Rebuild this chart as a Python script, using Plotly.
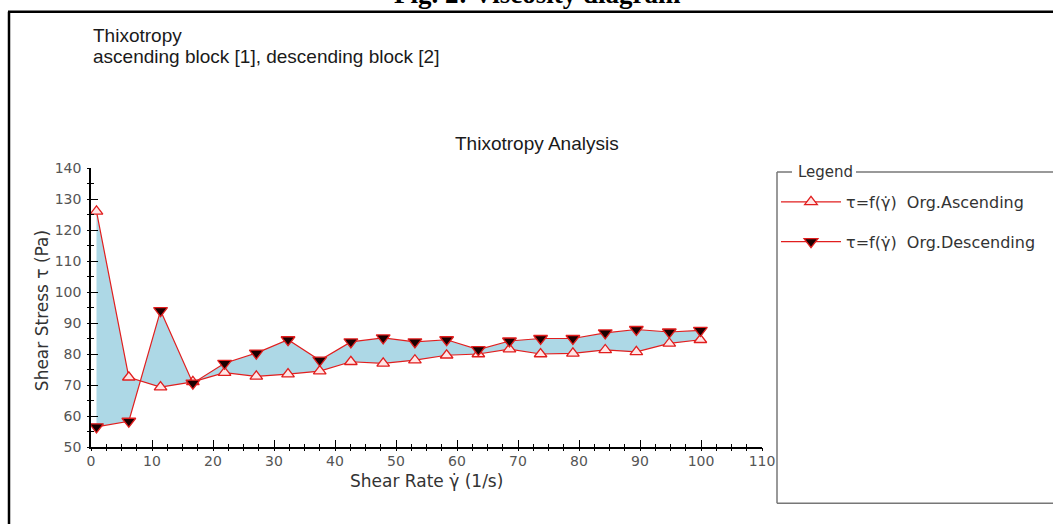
import plotly.graph_objects as go

# ---- data ----
shear_rate = [0.9, 6.2, 11.4, 16.7, 21.9, 27.1, 32.3, 37.5, 42.6, 47.9,
              53.1, 58.3, 63.5, 68.6, 73.7, 79.0, 84.3, 89.4, 94.8, 99.9]
stress_ascending = [126.0, 72.5, 69.3, 71.0, 74.0, 72.8, 73.5, 74.5, 77.5, 77.0,
                    78.0, 79.6, 80.0, 81.6, 80.0, 80.2, 81.3, 80.7, 83.4, 84.6]
stress_descending = [56.5, 58.3, 94.0, 70.6, 77.0, 80.3, 84.6, 78.0, 83.9, 85.2,
                     83.9, 84.6, 81.4, 84.2, 85.0, 85.0, 86.8, 87.9, 87.1, 87.6]
x_ticks = [0, 10, 20, 30, 40, 50, 60, 70, 80, 90, 100, 110]
y_ticks = [50, 60, 70, 80, 90, 100, 110, 120, 130, 140]

W, H = 1053, 524
L, R, T, B = 91, 762, 168, 446.7
PW, PH = R - L, B - T


def px_x(p):
    return (p - L) / PW


def px_y(p):
    return (B - p) / PH


RED = "rgb(225,30,30)"
SANS = "DejaVu Sans"
ARIAL = "Liberation Sans, Arial"

fig = go.Figure()

# filled area between ascending and descending curves
fig.add_trace(go.Scatter(x=shear_rate, y=stress_ascending, mode="lines",
                         line=dict(width=0, color="rgba(0,0,0,0)"),
                         showlegend=False, hoverinfo="skip"))
fig.add_trace(go.Scatter(x=shear_rate, y=stress_descending, mode="lines",
                         line=dict(width=0, color="rgba(0,0,0,0)"),
                         fill="tonexty", fillcolor="#add8e6",
                         showlegend=False, hoverinfo="skip"))

label_a = "τ=f(γ\u0307)\u00a0\u00a0Org.Ascending"
label_d = "τ=f(γ\u0307)\u00a0\u00a0Org.Descending"

fig.add_trace(go.Scatter(x=shear_rate, y=stress_ascending, mode="lines+markers",
                         name=label_a, legendgroup="a",
                         line=dict(color=RED, width=1.2),
                         marker=dict(symbol="triangle-up", size=11, color="#ffe6e6",
                                     line=dict(color=RED, width=1.3))))
fig.add_trace(go.Scatter(x=shear_rate, y=stress_descending, mode="lines+markers",
                         name=label_d, legendgroup="d",
                         line=dict(color=RED, width=1.2),
                         marker=dict(symbol="triangle-down", size=12, color="#1a0000",
                                     line=dict(color=RED, width=1.3))))

# overlay axes (no data) to make the ticks cross the axis lines
fig.add_trace(go.Scatter(x=[None], y=[None], xaxis="x2", yaxis="y2",
                         showlegend=False, hoverinfo="skip"))

tickfont = dict(family=SANS, size=14, color="#555555")

fig.update_layout(
    width=W, height=H,
    margin=dict(l=L, r=W - R, t=T, b=H - B, pad=0),
    paper_bgcolor="white", plot_bgcolor="white",
    hovermode=False,
    xaxis=dict(range=[0, 110], tickvals=x_ticks, ticks="inside", ticklen=7,
               tickwidth=1.3, tickcolor="black", showline=True, linecolor="black",
               linewidth=1.5, showgrid=False, zeroline=False, tickfont=tickfont,
               minor=dict(dtick=2.5, ticks="inside", ticklen=3, tickwidth=1,
                          tickcolor="black", showgrid=False)),
    yaxis=dict(range=[50, 140], tickvals=y_ticks, ticks="inside", ticklen=7,
               tickwidth=1.3, tickcolor="black", showline=True, linecolor="black",
               linewidth=1.5, showgrid=False, zeroline=False, tickfont=tickfont,
               ticklabelstandoff=5,
               minor=dict(dtick=5, ticks="inside", ticklen=3, tickwidth=1,
                          tickcolor="black", showgrid=False)),
    xaxis2=dict(overlaying="x", anchor="y", range=[0, 110], tickvals=x_ticks,
                ticks="outside", ticklen=3, tickwidth=1.3, tickcolor="black",
                showticklabels=False, showline=False, showgrid=False, zeroline=False,
                minor=dict(dtick=2.5, ticks="outside", ticklen=3, tickwidth=1,
                           tickcolor="black", showgrid=False)),
    yaxis2=dict(overlaying="y", anchor="x", range=[50, 140], tickvals=y_ticks,
                ticks="outside", ticklen=3, tickwidth=1.3, tickcolor="black",
                showticklabels=False, showline=False, showgrid=False, zeroline=False,
                minor=dict(dtick=5, ticks="outside", ticklen=3, tickwidth=1,
                           tickcolor="black", showgrid=False)),
    legend=dict(x=px_x(776), y=px_y(185), xanchor="left", yanchor="top",
                bgcolor="rgba(0,0,0,0)", borderwidth=0, itemwidth=60,
                tracegroupgap=16, font=dict(family=SANS, size=16, color="#333333")),
)

ann = [
    dict(text="<b>Fig. 2: Viscosity diagram</b>", x=px_x(537), y=px_y(11),
         xanchor="center", yanchor="bottom",
         font=dict(family="Liberation Serif, Times New Roman", size=27, color="black")),
    dict(text="Thixotropy", x=px_x(91), y=px_y(36), xanchor="left", yanchor="middle",
         font=dict(family=ARIAL, size=19, color="#1a1a1a")),
    dict(text="ascending block [1], descending block [2]", x=px_x(91), y=px_y(57),
         xanchor="left", yanchor="middle",
         font=dict(family=ARIAL, size=19, color="#1a1a1a")),
    dict(text="Thixotropy Analysis", x=px_x(537), y=px_y(144), xanchor="center",
         yanchor="middle", font=dict(family=ARIAL, size=19, color="#1a1a1a")),
    dict(text="Shear Rate γ\u0307 (1/s)", x=px_x(426.5), y=px_y(481), xanchor="center",
         yanchor="middle", font=dict(family=SANS, size=17, color="#333333")),
    dict(text="Shear Stress τ (Pa)", x=px_x(42), y=px_y(311), xanchor="center",
         yanchor="middle", textangle=-90, font=dict(family=SANS, size=17, color="#333333")),
    dict(text="Legend", x=px_x(796), y=px_y(172), xanchor="left", yanchor="middle",
         font=dict(family=SANS, size=15, color="#333333")),
]
for a in ann:
    a.update(xref="paper", yref="paper", showarrow=False)
fig.update_layout(annotations=ann)

shapes = [
    # outer frame (top and left edges visible)
    dict(x0=px_x(8), x1=px_x(1070), y0=px_y(12), y1=px_y(12),
         line=dict(color="black", width=2.5)),
    dict(x0=px_x(9), x1=px_x(9), y0=px_y(12), y1=px_y(540),
         line=dict(color="black", width=2.5)),
    # legend frame
    dict(x0=px_x(777), x1=px_x(777), y0=px_y(172), y1=px_y(503),
         line=dict(color="#777777", width=1.5)),
    dict(x0=px_x(777), x1=px_x(1070), y0=px_y(503), y1=px_y(503),
         line=dict(color="#777777", width=1.5)),
    dict(x0=px_x(777), x1=px_x(792), y0=px_y(172), y1=px_y(172),
         line=dict(color="#777777", width=1.5)),
    dict(x0=px_x(856), x1=px_x(1070), y0=px_y(172), y1=px_y(172),
         line=dict(color="#777777", width=1.5)),
]
for s in shapes:
    s.update(type="line", xref="paper", yref="paper", layer="above")
fig.update_layout(shapes=shapes)

fig.write_html("out.html")
